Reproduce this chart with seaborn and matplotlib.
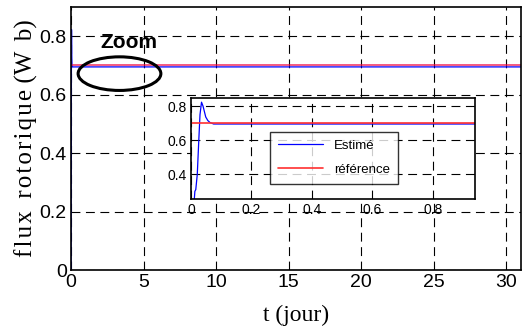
import numpy as np
import pandas as pd
import matplotlib
matplotlib.use("Agg")
import matplotlib.pyplot as plt
from matplotlib.patches import Ellipse
from matplotlib.ticker import FuncFormatter
import seaborn as sns

# Rotor flux: estimated response (days) and reference level
t_est = [0.0, 0.011, 0.013, 0.016, 0.021, 0.026, 0.030, 0.035, 0.040, 0.049, 0.056, 0.063, 0.075, 31.0]
flux_est = [0.0, 0.25, 0.30, 0.31, 0.40, 0.60, 0.75, 0.823, 0.80, 0.736, 0.715, 0.704, 0.695, 0.695]
t_ref = [0.0, 31.0]
flux_ref = [0.7, 0.7]

main_xticks = [0, 5, 10, 15, 20, 25, 30]
main_yticks = [0, 0.2, 0.4, 0.6, 0.8]
inset_xticks = [0, 0.2, 0.4, 0.6, 0.8]
inset_yticks = [0.4, 0.6, 0.8]

est = pd.DataFrame({"t": t_est, "flux": flux_est})
ref = pd.DataFrame({"t": t_ref, "flux": flux_ref})

sns.set_style("white")
plt.rcParams["font.family"] = ["Liberation Sans", "DejaVu Sans"]
plt.rcParams["text.color"] = "black"
plt.rcParams["axes.labelcolor"] = "black"

fig = plt.figure(figsize=(5.26, 3.33), dpi=100)
ax = fig.add_axes([0.135, 0.189, 0.8555, 0.790])

grid_kw = dict(color="black", linestyle=(0, (8, 5)), linewidth=0.8)


def fmt(v, _):
    return "0" if abs(v) < 1e-9 else f"{v:g}"


def spaced(s):
    return "\u200a".join(s)


sns.lineplot(data=est, x="t", y="flux", ax=ax, color="#0000ff", lw=0.9,
             sort=False, estimator=None)
sns.lineplot(data=ref, x="t", y="flux", ax=ax, color="#f0104a", lw=1.3,
             sort=False, estimator=None, alpha=0.75)
ax.set_xlim(0, 31)
ax.set_ylim(0, 0.9)
ax.set_xticks(main_xticks)
ax.set_yticks(main_yticks)
ax.yaxis.set_major_formatter(FuncFormatter(fmt))
ax.grid(True, **grid_kw)
ax.tick_params(direction="in", length=4, width=0.8, labelsize=14, pad=3,
               colors="black")
for s in ax.spines.values():
    s.set_color("black")
    s.set_linewidth(1.2)
ax.set_xlabel("t (jour)", family=["Liberation Serif", "DejaVu Serif"],
              fontsize=17, labelpad=10)
ax.set_ylabel(spaced("flux") + "  " + spaced("rotorique") + " (" + spaced("W b") + ")",
              family=["Liberation Serif", "DejaVu Serif"], fontsize=18,
              labelpad=1)

ax.text(4.0, 0.78, "Zoom", fontsize=15, fontweight="bold", ha="center",
        va="center")
ax.add_patch(Ellipse((3.34, 0.672), 5.7, 0.115, fill=False, ec="black",
                     lw=2.2, zorder=5))

# Inset: first day of the response
ins = fig.add_axes([0.363, 0.4024, 0.540, 0.302])
sns.lineplot(data=est, x="t", y="flux", ax=ins, color="#0000ff", lw=0.9,
             sort=False, estimator=None, label="Estimé")
sns.lineplot(data=ref, x="t", y="flux", ax=ins, color="#ff3030", lw=1.2,
             sort=False, estimator=None, label="référence")
ins.set_xlim(0, 0.94)
ins.set_ylim(0.255, 0.845)
ins.set_xticks(inset_xticks)
ins.set_yticks(inset_yticks)
ins.xaxis.set_major_formatter(FuncFormatter(fmt))
ins.grid(True, **grid_kw)
ins.tick_params(direction="in", length=4, width=0.8, labelsize=10, pad=3,
                colors="black")
ins.set_xlabel("")
ins.set_ylabel("")
for s in ins.spines.values():
    s.set_color("black")
    s.set_linewidth(1.2)
leg = ins.legend(loc="upper left", bbox_to_anchor=(0.28, 0.668), fontsize=9.5,
                 frameon=True, fancybox=False, edgecolor="black",
                 handlelength=3.4, borderpad=0.6, labelspacing=0.9,
                 borderaxespad=0)
leg.get_frame().set_linewidth(1.0)

fig.savefig("out.png", dpi=100)
